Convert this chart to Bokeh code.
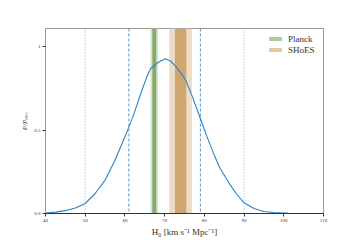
from bokeh.plotting import figure
from bokeh.models import Range1d, FixedTicker, Span, Legend, LegendItem
from bokeh.embed import file_html
from bokeh.resources import INLINE

# posterior curve P/Pmax vs H0
h0 = [40, 42.5, 45, 47.5, 50, 52.5, 55, 57.5, 60, 62, 64, 65.5, 66.5, 68, 69, 70.2,
      71.5, 72.5, 73.5, 74.5, 75.5, 77, 79, 80.5, 82.5, 84, 86, 88, 90, 92.5, 95,
      97.5, 100, 101]
prob = [0.003, 0.008, 0.017, 0.033, 0.06, 0.12, 0.2, 0.32, 0.46, 0.58, 0.72, 0.82,
        0.87, 0.90, 0.915, 0.928, 0.915, 0.89, 0.86, 0.83, 0.79, 0.70, 0.57, 0.47,
        0.35, 0.27, 0.19, 0.12, 0.064, 0.03, 0.012, 0.006, 0.003, 0.002]

# credible interval lines
dashed_lines = [61, 79]
dotted_lines = [50, 90]

# reference measurements: name, mean, sigma
ref_names = ["Planck", "SHoES"]
ref_means = [67.4, 74.03]
ref_sigmas = [0.5, 1.42]

x_ticks = [40, 50, 60, 70, 80, 90, 100, 110]
y_ticks = [0.0, 0.5, 1.0]
y_tick_labels = ["0.0", "0.5", "1"]

dark_cols = ["#86ab6e", "#cfa570"]
light_cols = ["#d8e5ce", "#ecdcc4"]
legend_cols = ["#aec99a", "#e2c8a0"]

SERIF = "Liberation Serif"

p = figure(width=360, height=240, output_backend="svg", toolbar_location=None,
           x_range=Range1d(40, 110), y_range=Range1d(0, 1.11),
           min_border_left=45, min_border_right=37, min_border_top=28, min_border_bottom=27)
p.background_fill_color = "white"
p.border_fill_color = "white"
p.grid.visible = False
p.outline_line_color = "#999999"
p.outline_line_width = 1

for i in range(len(ref_names)):
    m, s = ref_means[i], ref_sigmas[i]
    p.quad(left=[m - 2 * s], right=[m + 2 * s], bottom=[0], top=[1.11],
           fill_color=light_cols[i], line_color=None)
    p.quad(left=[m - s], right=[m + s], bottom=[0], top=[1.11],
           fill_color=dark_cols[i], line_color=None)

for xv in dashed_lines:
    p.add_layout(Span(location=xv, dimension="height", line_color="#3c8dcf",
                      line_width=0.9, line_dash="3 2"))
for xv in dotted_lines:
    p.add_layout(Span(location=xv, dimension="height", line_color="#6fb0e0",
                      line_width=0.9, line_dash="1 2"))

p.line(h0, prob, line_color="#2b83c4", line_width=1.1)

items = []
for i in range(len(ref_names)):
    # off-range quad, only used to draw the legend swatch
    r = p.quad(left=[200], right=[201], bottom=[0], top=[1], fill_color=legend_cols[i],
               line_color=None)
    items.append(LegendItem(label=ref_names[i], renderers=[r]))
leg = Legend(items=items, location=(222, 158), margin=0, padding=5, spacing=0,
             label_height=11, glyph_height=5, glyph_width=16, label_standoff=5,
             label_text_font=SERIF, label_text_font_size="9px",
             label_text_color="#333333", border_line_color=None,
             background_fill_alpha=0.0)
p.add_layout(leg)

p.xaxis.ticker = FixedTicker(ticks=x_ticks)
p.yaxis.ticker = FixedTicker(ticks=y_ticks)
p.yaxis.major_label_overrides = {y_ticks[i]: y_tick_labels[i] for i in range(len(y_ticks))}
for ax in (p.xaxis, p.yaxis):
    ax.major_label_text_font = SERIF
    ax.major_label_text_font_size = "5px"
    ax.major_label_text_color = "#333333"
    ax.axis_label_text_font = SERIF
    ax.axis_label_text_color = "#333333"
    ax.major_tick_in = 0
    ax.major_tick_out = 3
    ax.minor_tick_line_color = None
    ax.major_tick_line_color = "#333333"
    ax.major_label_standoff = 2
    ax.axis_label_standoff = 2
p.xaxis.axis_line_color = "#333333"
p.yaxis.axis_line_color = "#999999"
p.xaxis.axis_label = "H\u2080 [km s\u207b\u00b9 Mpc\u207b\u00b9]"
p.xaxis.axis_label_text_font_size = "9px"
p.xaxis.axis_label_text_font_style = "normal"
p.yaxis.axis_label = "P/P\u2098\u2090\u2093"
p.yaxis.axis_label_text_font_size = "7px"
p.yaxis.axis_label_text_font_style = "italic"
p.yaxis.major_label_orientation = "horizontal"

open("out.html", "w").write(file_html(p, INLINE))
